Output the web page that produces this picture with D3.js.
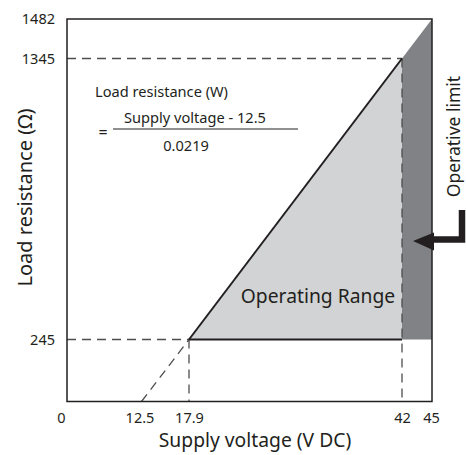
<!DOCTYPE html>
<html><head><meta charset="utf-8">
<script src="https://cdn.jsdelivr.net/npm/d3@7"></script>
<style>body{margin:0;background:#fff}svg{display:block}text{font-family:"Noto Sans",sans-serif;fill:#231f20}</style>
</head><body><svg id="c" width="466" height="455"></svg>
<script>
// ---- data ----
const xTicks = [0, 12.5, 17.9, 42, 45];
const xTickLabels = ["0", "12.5", "17.9", "42", "45"];
const yTicks = [245, 1345, 1482];
const yTickLabels = ["245", "1345", "1482"];
const vMin = 17.9, vMax = 42, vLimit = 45, vOffset = 12.5;
const rMin = 245, rMax = 1345, rTop = 1482;
// operating-range boundary line (supply voltage, load resistance)
const rangeLine = [[17.9, 245], [42, 1345]];
const extensionLine = [[12.5, 0], [17.9, 245]];
const operatingArea = [[17.9, 245], [42, 1345], [42, 245]];
const limitArea = [[42, 245], [42, 1345], [45, 1482], [45, 245]];

// ---- scales (schematic, piecewise) ----
const x = d3.scaleLinear().domain([0, 12.5, 17.9, 42, 45]).range([67, 141.5, 189, 402, 432]);
const y = d3.scaleLinear().domain([0, 245, 1345, 1482]).range([401.5, 339.5, 58.5, 19]);

const svg = d3.select("#c");
const line = d3.line().x(d => x(d[0])).y(d => y(d[1]));

svg.append("path").attr("d", line(limitArea) + "Z").attr("fill", "#808285");
svg.append("path").attr("d", line(operatingArea) + "Z").attr("fill", "#d1d3d4");

// dashed guides
const dash = {stroke: "#4d4d4f", "stroke-width": 1.3, "stroke-dasharray": "9,6", fill: "none"};
function dl(pts) { const p = svg.append("path").attr("d", line(pts)); for (const k in dash) p.attr(k, dash[k]); return p; }
dl([[0, rMax], [vMax, rMax]]);
dl([[0, rMin], [vMin, rMin]]);
dl([[vMin, rMin], [vMin, 0]]);
dl([[vMax, rMax], [vMax, 0]]);
dl(extensionLine);

// solid boundary
svg.append("path").attr("d", line(rangeLine)).attr("stroke", "#231f20").attr("stroke-width", 2).attr("fill", "none");
svg.append("path").attr("d", line([[vMin, rMin], [vMax, rMin]])).attr("stroke", "#231f20").attr("stroke-width", 2.2).attr("fill", "none");

// frame
svg.append("rect").attr("x", x(0)).attr("y", y(rTop)).attr("width", x(vLimit) - x(0)).attr("height", y(0) - y(rTop))
  .attr("fill", "none").attr("stroke", "#231f20").attr("stroke-width", 1.5);

// axes (labels only)
const xAxis = d3.axisBottom(x).tickValues(xTicks).tickSize(0).tickPadding(11)
  .tickFormat((d, i) => xTickLabels[i]);
const gx = svg.append("g").attr("transform", `translate(0,${y(0)})`).call(xAxis);
gx.select(".domain").remove();
gx.selectAll("text").attr("font-size", 14.5).attr("font-family", "Noto Sans").attr("fill", "#231f20")
  .attr("dx", (d) => d === 0 ? -6 : d === 12.5 ? -2 : d === 45 ? -1 : 0);

const yAxis = d3.axisLeft(y).tickValues(yTicks).tickSize(0).tickPadding(12)
  .tickFormat((d, i) => yTickLabels[i]);
const gy = svg.append("g").attr("transform", `translate(${x(0)},0)`).call(yAxis);
gy.select(".domain").remove();
gy.selectAll("text").attr("font-size", 14.5).attr("font-family", "Noto Sans").attr("fill", "#231f20");

// titles
svg.append("text").attr("x", 255).attr("y", 447).attr("text-anchor", "middle").attr("font-size", 19.3).text("Supply voltage (V DC)");
svg.append("text").attr("transform", "translate(32,197.5) rotate(-90)").attr("text-anchor", "middle").attr("font-size", 20).text("Load resistance (Ω)");
svg.append("text").attr("x", 318).attr("y", 303).attr("text-anchor", "middle").attr("font-size", 19.3).text("Operating Range");
svg.append("text").attr("transform", "translate(460,136.5) rotate(-90)").attr("text-anchor", "middle").attr("font-size", 17.5).text("Operative limit");

// formula
svg.append("text").attr("x", 95).attr("y", 97).attr("font-size", 14.6).text("Load resistance (W)");
svg.append("text").attr("x", 103).attr("y", 137.5).attr("text-anchor", "middle").attr("font-size", 16).text("=");
svg.append("line").attr("x1", 113).attr("x2", 298).attr("y1", 129).attr("y2", 129).attr("stroke", "#231f20").attr("stroke-width", 1);
svg.append("text").attr("x", 195).attr("y", 123).attr("text-anchor", "middle").attr("font-size", 14.6).text("Supply voltage - 12.5");
svg.append("text").attr("x", 186).attr("y", 150.5).attr("text-anchor", "middle").attr("font-size", 14.6).text("0.0219");

// arrow
svg.append("path").attr("d", "M462,210V239.5H432").attr("fill", "none").attr("stroke", "#231f20").attr("stroke-width", 6.5);
svg.append("path").attr("d", "M413,241L434,232.5L434,250.5Z").attr("fill", "#231f20");
</script></body></html>
